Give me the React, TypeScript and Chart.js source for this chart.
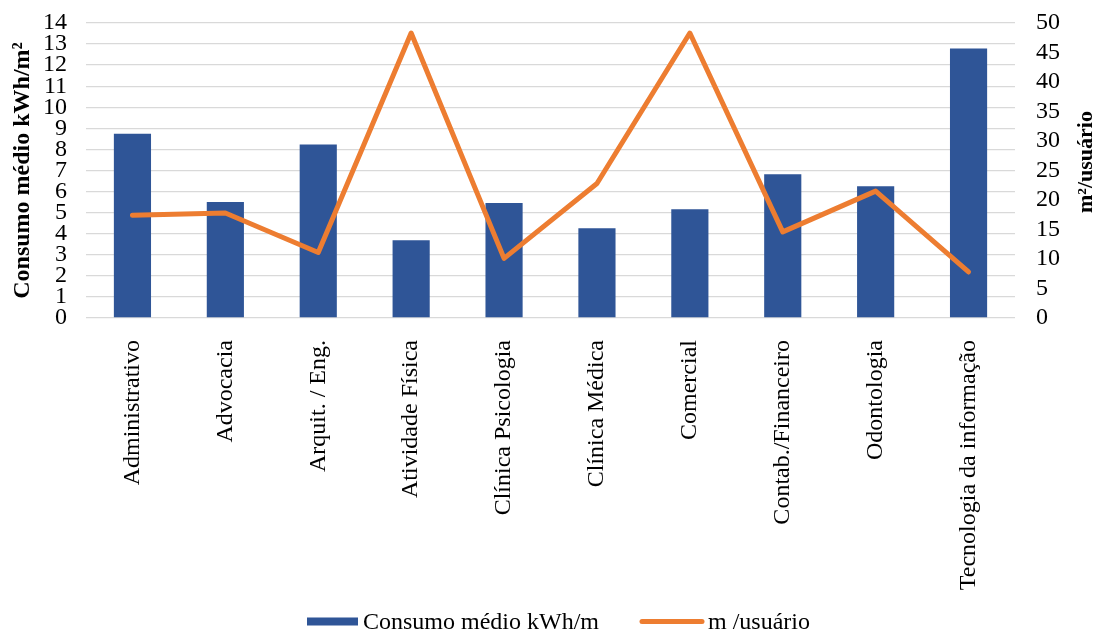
import React, { useEffect, useRef } from "react";
import { Chart, registerables } from "chart.js";

Chart.register(...registerables);

const categories = [
  "Administrativo",
  "Advocacia",
  "Arquit. / Eng.",
  "Atividade Física",
  "Clínica Psicologia",
  "Clínica Médica",
  "Comercial",
  "Contab./Financeiro",
  "Odontologia",
  "Tecnologia da informação",
];
const consumo = [8.75, 5.51, 8.23, 3.69, 5.46, 4.26, 5.16, 6.82, 6.25, 12.79];
const areaUsuario = [17.4, 17.8, 11.1, 48.3, 10.1, 22.8, 48.3, 14.6, 21.5, 7.8];
const leftTitle = "Consumo médio kWh/m²";
const rightTitle = "m²/usuário";
const legendBar = "Consumo médio kWh/m";
const legendLine = "m /usuário";

const BLUE = "#2F5597";
const ORANGE = "#ED7D31";
const FONT = "'Liberation Serif', 'Times New Roman', serif";

export default function App() {
  const ref = useRef<HTMLCanvasElement | null>(null);
  useEffect(() => {
    if (!ref.current) return;
    const extras = {
      id: "extras",
      afterDraw(chart: any) {
        const ctx = chart.ctx;
        ctx.save();
        // right axis title
        ctx.translate(1086, 162);
        ctx.rotate(-Math.PI / 2);
        ctx.font = `bold 22px ${FONT}`;
        ctx.fillStyle = "#000";
        ctx.textAlign = "center";
        ctx.textBaseline = "middle";
        ctx.fillText(rightTitle, 0, 0);
        ctx.restore();
        // legend
        ctx.save();
        const y = 621.5;
        ctx.fillStyle = BLUE;
        ctx.fillRect(307, y - 4, 51, 8);
        ctx.font = `24px ${FONT}`;
        ctx.fillStyle = "#000";
        ctx.textAlign = "left";
        ctx.textBaseline = "middle";
        ctx.fillText(legendBar, 363, y + 1.5);
        ctx.strokeStyle = ORANGE;
        ctx.lineWidth = 5;
        ctx.lineCap = "round";
        ctx.beginPath();
        ctx.moveTo(642, y);
        ctx.lineTo(702, y);
        ctx.stroke();
        ctx.fillText(legendLine, 708, y + 1.5);
        ctx.restore();
      },
    };
    const chart = new Chart(ref.current, {
      type: "bar",
      data: {
        labels: categories,
        datasets: [
          {
            type: "bar",
            label: legendBar,
            data: consumo,
            backgroundColor: BLUE,
            yAxisID: "y",
            barPercentage: 0.4,
            categoryPercentage: 1,
            order: 2,
          },
          {
            type: "line",
            label: legendLine,
            data: areaUsuario,
            borderColor: ORANGE,
            backgroundColor: ORANGE,
            borderWidth: 5,
            pointRadius: 0,
            borderCapStyle: "round",
            borderJoinStyle: "round",
            yAxisID: "y1",
            order: 1,
          } as any,
        ],
      },
      options: {
        responsive: false,
        animation: false,
        layout: { padding: { top: 23, left: 0, right: 0, bottom: 0 } },
        plugins: {
          legend: { display: false },
          tooltip: { enabled: false },
        },
        scales: {
          x: {
            grid: { display: false },
            border: { display: false },
            ticks: {
              autoSkip: false,
              maxRotation: 90,
              minRotation: 90,
              padding: 14,
              color: "#000",
              font: { family: FONT, size: 24 },
            },
            afterFit: (s: any) => {
              s.height = 316;
            },
          },
          y: {
            position: "left",
            min: 0,
            max: 14,
            grid: { color: "#D9D9D9", lineWidth: 1.3, drawTicks: false },
            border: { display: false },
            ticks: {
              stepSize: 1,
              autoSkip: false,
              padding: 19,
              color: "#000",
              font: { family: FONT, size: 24, lineHeight: 1 },
            },
            title: {
              display: true,
              text: leftTitle,
              color: "#000",
              font: { family: FONT, size: 24, weight: "bold" },
              padding: { top: 8, bottom: 0 },
            },
            afterFit: (s: any) => {
              s.width = 86;
              s.paddingTop = 0;
              s.paddingBottom = 0;
            },
          },
          y1: {
            position: "right",
            min: 0,
            max: 50,
            grid: { display: false, drawTicks: false },
            border: { display: false },
            ticks: {
              stepSize: 5,
              autoSkip: false,
              padding: 21,
              color: "#000",
              font: { family: FONT, size: 24, lineHeight: 1 },
            },
            afterFit: (s: any) => {
              s.width = 81;
              s.paddingTop = 0;
              s.paddingBottom = 0;
            },
          },
        },
      },
      plugins: [extras],
    });
    return () => chart.destroy();
  }, []);
  return (
    <div style={{ position: "absolute", left: 0, top: 0, width: 1096, height: 634, background: "#fff" }}>
      <canvas ref={ref} width={1096} height={634} style={{ width: 1096, height: 634 }} />
    </div>
  );
}
